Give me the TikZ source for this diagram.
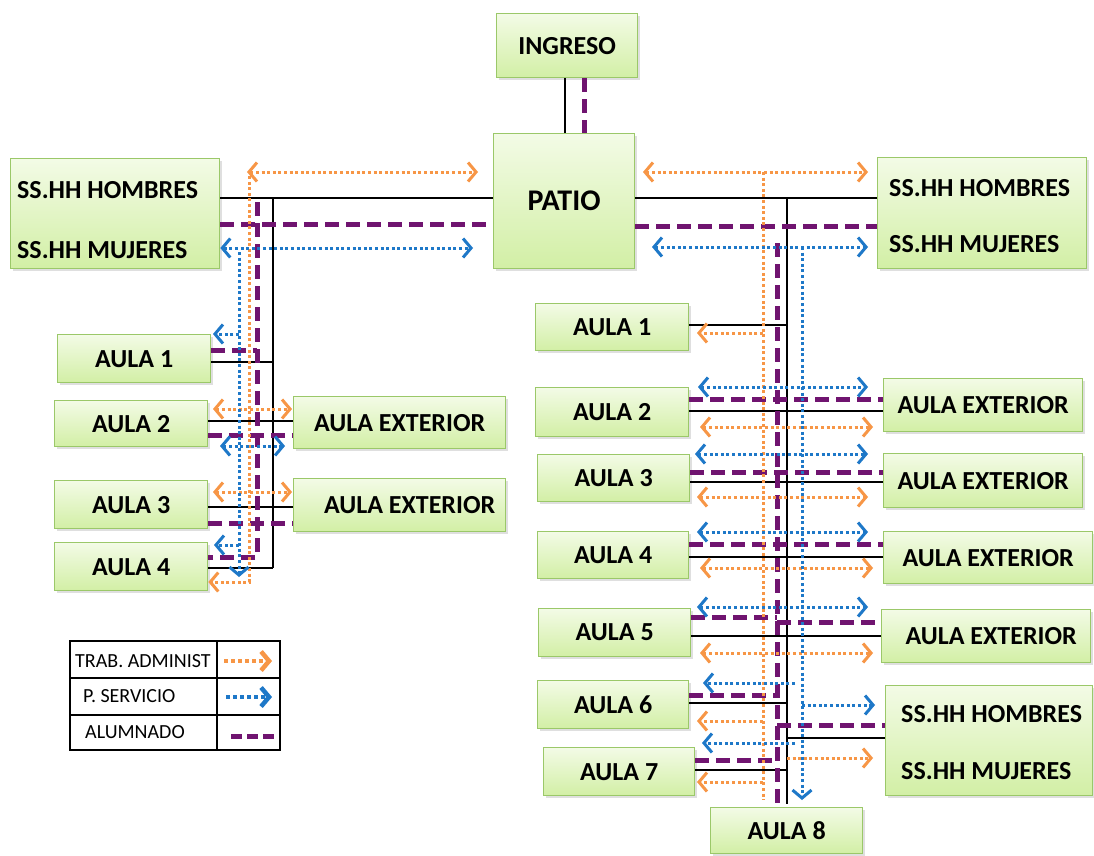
\documentclass[tikz,border=0pt]{standalone}
\usepackage{fontspec}
\setmainfont{Carlito}
\usetikzlibrary{arrows.meta,shadows}
\definecolor{boxtop}{RGB}{243,251,230}
\definecolor{boxbot}{RGB}{210,239,165}
\definecolor{boxline}{RGB}{155,200,105}
\definecolor{orA}{RGB}{247,150,70}
\definecolor{blA}{RGB}{30,120,200}
\definecolor{puA}{RGB}{112,20,112}
\tikzset{
  box/.style={draw=boxline, line width=1.3pt, top color=boxtop, bottom color=boxbot,
    anchor=north west, inner sep=0pt, font=\fontsize{26}{30}\selectfont\bfseries,
    drop shadow={opacity=0.25, shadow xshift=2pt, shadow yshift=-2pt}},
  txt/.style={inner sep=0pt, anchor=base west, font=\fontsize{26}{30}\selectfont\bfseries},
  legtxt/.style={inner sep=0pt, anchor=base west, font=\fontsize{20}{24}\selectfont},
  blk/.style={line width=2.5pt, black},
  pur/.style={line width=5pt, puA, dash pattern=on 14pt off 7pt},
  ora/.style={line width=3pt, orA, dash pattern=on 3pt off 2.6pt},
  blu/.style={line width=3pt, blA, dash pattern=on 3pt off 2.6pt},
}
\begin{document}
\begin{tikzpicture}[x=1pt,y=-1pt,>={Straight Barb[length=8pt,width=19pt]}]
\fill[white] (0,0) rectangle (1094,855);
\useasboundingbox (0,0) rectangle (1094,855);

% ---------- boxes ----------
\node[box, minimum width=141pt, minimum height=64pt] (ing) at (496,13) {INGRESO};
\node[box, minimum width=141pt, minimum height=135pt, font=\fontsize{30}{32}\selectfont\bfseries] (patio) at (493,133) {PATIO};
\node[box, minimum width=209pt, minimum height=110pt] (lss) at (10,158) {};
\node[txt] (lssh) at (17,198) {SS.HH HOMBRES};
\node[txt] (lssm) at (17,258) {SS.HH MUJERES};
\node[box, minimum width=209pt, minimum height=111pt] (rss) at (877,157) {};
\node[txt] (rssh) at (889,196) {SS.HH HOMBRES};
\node[txt] (rssm) at (889,252) {SS.HH MUJERES};

\node[box, minimum width=153pt, minimum height=48pt] (la1) at (57,334) {AULA 1};
\node[box, minimum width=153pt, minimum height=46pt] (la2) at (54,400) {AULA 2};
\node[box, minimum width=153pt, minimum height=48pt] (la3) at (54,480) {AULA 3};
\node[box, minimum width=153pt, minimum height=48pt] (la4) at (54,542) {AULA 4};
\node[box, minimum width=212pt, minimum height=52pt] (le1) at (293,396) {AULA EXTERIOR};
\node[box, minimum width=212pt, minimum height=53pt] (le2) at (293,478) {\hspace*{20pt}AULA EXTERIOR};

\node[box, minimum width=153pt, minimum height=47pt] (ra1) at (535,303) {AULA 1};
\node[box, minimum width=153pt, minimum height=49pt] (ra2) at (535,387) {AULA 2};
\node[box, minimum width=152pt, minimum height=47pt] (ra3) at (537,454) {AULA 3};
\node[box, minimum width=151pt, minimum height=47pt] (ra4) at (537,531) {AULA 4};
\node[box, minimum width=152pt, minimum height=48pt] (ra5) at (538,608) {AULA 5};
\node[box, minimum width=151pt, minimum height=48pt] (ra6) at (537,680) {AULA 6};
\node[box, minimum width=151pt, minimum height=48pt] (ra7) at (543,747) {AULA 7};
\node[box, minimum width=152pt, minimum height=46pt] (ra8) at (710,807) {AULA 8};
\node[box, minimum width=199pt, minimum height=53pt] (re1) at (883,378) {AULA EXTERIOR};
\node[box, minimum width=199pt, minimum height=54pt] (re2) at (883,453) {AULA EXTERIOR};
\node[box, minimum width=209pt, minimum height=52pt] (re3) at (883,531) {AULA EXTERIOR};
\node[box, minimum width=209pt, minimum height=53pt] (re4) at (881,609) {\hspace*{10pt}AULA EXTERIOR};
\node[box, minimum width=207pt, minimum height=110pt] (rss2) at (885,685) {};
\node[txt] (rss2h) at (901,722) {SS.HH HOMBRES};
\node[txt] (rss2m) at (901,779) {SS.HH MUJERES};

% ---------- top ----------
\draw[blk] (ing.south -| 565,0) -- (patio.north -| 565,0);
\draw[pur] (ing.south -| 584,0) -- (patio.north -| 584,0);

% ---------- left: black ----------
\draw[blk] (lss.east |- 0,198) -- (patio.west |- 0,198);
\draw[blk] (273,198) -- (273,568);
\draw[blk] (la1.east |- 0,362) -- (273,362);
\draw[blk] (la2.east |- 0,421) -- (le1.west |- 0,421);
\draw[blk] (la3.east |- 0,507) -- (le2.west |- 0,507);
\draw[blk] (la4.east |- 0,568) -- (273,568);
% left: purple
\draw[pur] (lss.east |- 0,224) -- (patio.west |- 0,224);
\draw[pur] (257,202) -- (257,557) -- (la4.east |- 0,557);
\draw[pur] (la1.east |- 0,350) -- (257,350);
\draw[pur] (la2.east |- 0,435) -- (le1.west |- 0,435);
\draw[pur] (la3.east |- 0,523) -- (le2.west |- 0,523);
% left: orange
\draw[ora,<->] (247,172) -- (478,172);
\draw[ora,->] (249,176) -- (249,582) -- (la4.east |- 0,582);
\draw[ora,<->] (213,409) -- (292,409);
\draw[ora,<->] (213,492) -- (292,492);
% left: blue
\draw[blu,<->] (lss.east |- 0,248) -- (473,248);
\draw[blu,->] (239,252) -- (239,577);
\draw[blu,->] (239,334) -- (213,334);
\draw[blu,<->] (220,446) -- (285,446);
\draw[blu,->] (239,545) -- (214,545);

% ---------- right: black ----------
\draw[blk] (patio.east |- 0,198) -- (rss.west |- 0,198);
\draw[blk] (787,198) -- (787,804);
\draw[blk] (ra1.east |- 0,325) -- (787,325);
\draw[blk] (ra2.east |- 0,411) -- (re1.west |- 0,411);
\draw[blk] (ra3.east |- 0,482) -- (re2.west |- 0,482);
\draw[blk] (ra4.east |- 0,557) -- (re3.west |- 0,557);
\draw[blk] (ra5.east |- 0,636) -- (re4.west |- 0,636);
\draw[blk] (ra6.east |- 0,703) -- (787,703);
\draw[blk] (787,738) -- (rss2.west |- 0,738);
\draw[blk] (ra7.east |- 0,770) -- (787,770);
% right: purple
\draw[pur] (patio.east |- 0,226) -- (rss.west |- 0,226);
\draw[pur] (777,243) -- (ra8.north -| 777,0);
\draw[pur] (ra2.east |- 0,399) -- (re1.west |- 0,399);
\draw[pur] (ra3.east |- 0,472) -- (re2.west |- 0,472);
\draw[pur] (ra4.east |- 0,544) -- (re3.west |- 0,544);
\draw[pur] (ra5.east |- 0,617) -- (777,617);
\draw[pur] (777,622) -- (re4.west |- 0,622);
\draw[pur] (ra6.east |- 0,695) -- (777,695);
\draw[pur] (777,725) -- (rss2.west |- 0,725);
\draw[pur] (ra7.east |- 0,760) -- (777,760);
% right: orange
\draw[ora,<->] (643,172) -- (868,172);
\draw[ora] (763,172) -- (763,800);
\draw[ora,->] (763,333) -- (697,333);
\draw[ora,<->] (700,427) -- (873,427);
\draw[ora,<->] (697,497) -- (868,497);
\draw[ora,<->] (700,568) -- (873,568);
\draw[ora,<->] (700,653) -- (873,653);
\draw[ora,->] (763,721) -- (697,721);
\draw[ora,->] (787,758) -- (873,758);
\draw[ora,->] (763,782) -- (697,782);
% right: blue
\draw[blu,<->] (652,247) -- (868,247);
\draw[blu,->] (802,247) -- (802,800);
\draw[blu,<->] (698,387) -- (868,387);
\draw[blu,<->] (695,454) -- (868,454);
\draw[blu,<->] (697,532) -- (868,532);
\draw[blu,<->] (697,607) -- (868,607);
\draw[blu,->] (795,683) -- (703,683);
\draw[blu,->] (802,705) -- (875,705);
\draw[blu,->] (795,743) -- (702,743);

% ---------- legend ----------
\draw[line width=2pt] (70,641) rectangle (280,750);
\draw[line width=2pt] (217,641) -- (217,750);
\draw[line width=2pt] (70,678) -- (280,678);
\draw[line width=2pt] (70,715) -- (280,715);
\node[legtxt] (lg1) at (75,667) {TRAB. ADMINIST};
\node[legtxt] (lg2) at (83,702) {P. SERVICIO};
\node[legtxt] (lg3) at (85,738) {ALUMNADO};
\draw[ora,line width=4.5pt,dash pattern=on 4pt off 3pt,->] (224,661) -- (272,661);
\draw[blu,line width=4.5pt,dash pattern=on 4pt off 3pt,->] (226,697) -- (272,697);
\draw[pur,dash pattern=on 11pt off 5pt] (231,736) -- (278,736);
\end{tikzpicture}
\end{document}
